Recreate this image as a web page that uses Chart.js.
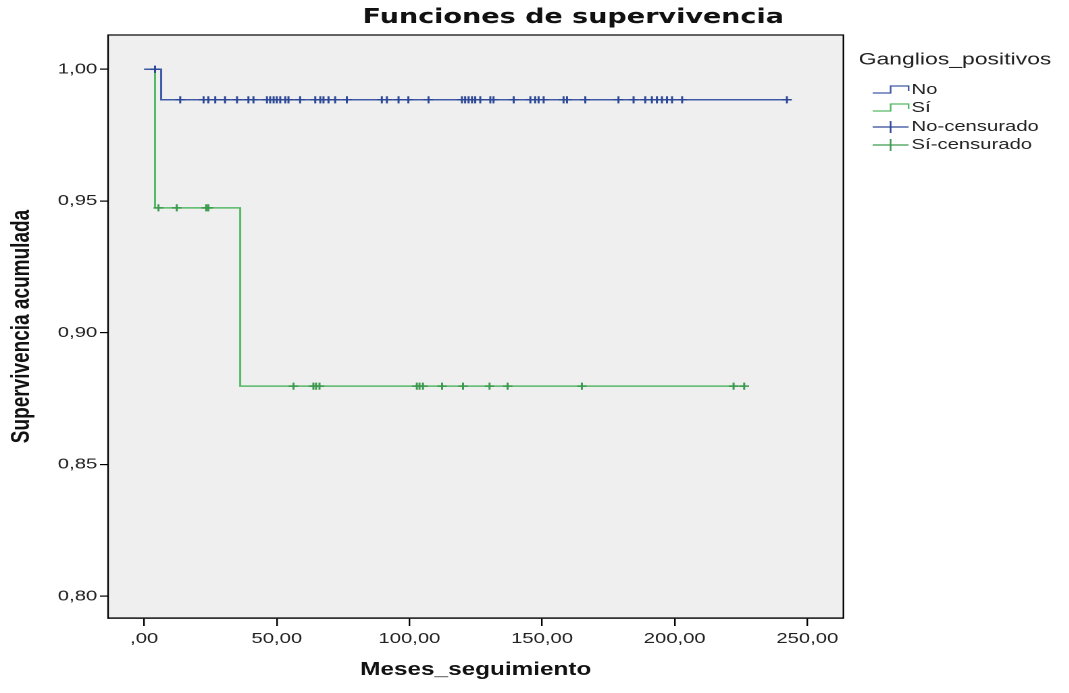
<!DOCTYPE html>
<html><head><meta charset="utf-8">
<script src="https://cdn.jsdelivr.net/npm/chart.js@4"></script>
<style>
html,body{margin:0;padding:0;background:#fff;overflow:hidden;}
#wrap{position:absolute;left:0;top:0;width:791.85px;height:693px;transform:scaleX(1.35);transform-origin:0 0;}
</style></head><body>
<div id="wrap"><canvas id="c"></canvas></div>
<script>
const chartTitle = 'Funciones de supervivencia';
const xAxisTitle = 'Meses_seguimiento';
const yAxisTitle = 'Supervivencia acumulada';
const legendTitle = 'Ganglios_positivos';
const seriesNames = ['No', 'Sí', 'No-censurado', 'Sí-censurado'];

const xTickValues = [0, 50, 100, 150, 200, 250];
const xTickLabels = [',00', '50,00', '100,00', '150,00', '200,00', '250,00'];
const yTickValues = [0.80, 0.85, 0.90, 0.95, 1.00];
const yTickLabels = ['0,80', '0,85', '0,90', '0,95', '1,00'];

// Kaplan-Meier step functions
const noTimes = [0, 6.4, 242.3];
const noSurv  = [1.0, 0.9884, 0.9884];
const siTimes = [0, 4.1, 36.2, 226.2];
const siSurv  = [1.0, 0.9474, 0.8797, 0.8797];

// censored observations (time, grouped by survival level)
const noCensLevelA = 1.0;
const noCensTimesA = [4.1];
const noCensLevelB = 0.9884;
const noCensTimesB = [13.6, 22.4, 24.2, 26.8, 30.5, 35.0, 39.3, 41.2, 46.3, 47.5, 48.8, 50.0, 51.3, 53.2, 54.4, 58.8, 64.5, 66.4, 67.6, 69.5, 72.0, 76.4, 89.6, 91.5, 95.9, 99.6, 107.2, 119.8, 121.0, 122.3, 123.6, 124.8, 126.7, 130.5, 131.7, 139.3, 145.6, 147.4, 148.7, 150.6, 158.1, 159.4, 166.3, 178.8, 184.5, 188.9, 191.4, 193.3, 195.2, 197.1, 199.0, 202.8, 242.3];
const siCensLevelA = 0.9474;
const siCensTimesA = [5.4, 12.3, 23.4, 24.2];
const siCensLevelB = 0.8797;
const siCensTimesB = [56.3, 63.8, 64.8, 66.1, 102.8, 103.8, 105.1, 112.3, 120.2, 130.2, 137.0, 165.0, 222.2, 226.2];

const blueLine = '#3f5aa8', greenLine = '#55b966';
const blueMark = '#2d4896', greenMark = '#3c9a4e';

const toXY = (ts, ys) => ts.map((t, i) => ({x: t, y: ys[i]}));
const toLevel = (ts, lvl) => ts.map(t => ({x: t, y: lvl}));

const areaPlugin = {
  id: 'area',
  beforeDatasetsDraw(chart) {
    const a = chart.chartArea, ctx = chart.ctx;
    ctx.save(); ctx.fillStyle = '#efefef';
    ctx.fillRect(a.left, a.top, a.right - a.left, a.bottom - a.top);
    ctx.restore();
  },
  afterDatasetsDraw(chart) {
    const a = chart.chartArea, ctx = chart.ctx;
    ctx.save(); ctx.strokeStyle = '#000'; ctx.lineWidth = 1.2;
    ctx.strokeRect(a.left, a.top, a.right - a.left, a.bottom - a.top);
    ctx.restore();
  },
  afterDraw(chart) {
    const ctx = chart.ctx;
    ctx.save();
    ctx.fillStyle = '#111';
    ctx.textBaseline = 'middle';
    ctx.textAlign = 'center';
    ctx.font = 'bold 20px "DejaVu Sans"';
    ctx.fillText(chartTitle, 424.4, 18);
    // legend
    ctx.textAlign = 'left';
    ctx.fillStyle = '#222';
    ctx.font = '17px "Liberation Sans"';
    ctx.fillText(legendTitle, 635.6, 60);
    ctx.font = '15px "Liberation Sans"';
    const rows = [90, 108, 127, 145];
    const cols = [blueLine, greenLine, blueMark, greenMark];
    const x0 = 646, x1 = 672.6, xm = 659.3;
    rows.forEach((y, i) => {
      ctx.strokeStyle = cols[i];
      ctx.lineWidth = 1.2;
      ctx.beginPath();
      if (i < 2) {
        ctx.moveTo(x0, y + 3); ctx.lineTo(xm, y + 3); ctx.lineTo(xm, y - 4);
        ctx.lineTo(x1, y - 4); ctx.lineTo(x1, y + 1);
      } else {
        ctx.moveTo(x0, y); ctx.lineTo(x1, y);
        ctx.moveTo(xm, y - 6); ctx.lineTo(xm, y + 6);
      }
      ctx.stroke();
      ctx.fillStyle = '#222';
      ctx.fillText(seriesNames[i], 674.8, y);
    });
    ctx.restore();
  }
};

new Chart(document.getElementById('c'), {
  type: 'line',
  data: {
    datasets: [
      {label: seriesNames[0], data: toXY(noTimes, noSurv), borderColor: blueLine, borderWidth: 1.5, stepped: true, pointRadius: 0, fill: false, order: 1},
      {label: seriesNames[1], data: toXY(siTimes, siSurv), borderColor: greenLine, borderWidth: 1.5, stepped: true, pointRadius: 0, fill: false, order: 2},
      {label: seriesNames[2], data: toLevel(noCensTimesA, noCensLevelA).concat(toLevel(noCensTimesB, noCensLevelB)), showLine: false, pointStyle: 'cross', pointRadius: 3.6, pointBorderWidth: 1.5, borderColor: blueMark, backgroundColor: blueMark, order: 0},
      {label: seriesNames[3], data: toLevel(siCensTimesA, siCensLevelA).concat(toLevel(siCensTimesB, siCensLevelB)), showLine: false, pointStyle: 'cross', pointRadius: 3.6, pointBorderWidth: 1.5, borderColor: greenMark, backgroundColor: greenMark, order: 0}
    ]
  },
  options: {
    responsive: true,
    maintainAspectRatio: false,
    animation: false,
    devicePixelRatio: 2,
    layout: {padding: {left: 0, right: 167.45, top: 35, bottom: 0}},
    plugins: {legend: {display: false}, tooltip: {enabled: false}, title: {display: false}},
    scales: {
      x: {
        type: 'linear', min: -13.6, max: 263.6,
        afterBuildTicks: s => { s.ticks = xTickValues.map(v => ({value: v})); },
        afterFit: s => { s.height = 75; },
        ticks: {callback: v => xTickLabels[xTickValues.indexOf(v)], font: {family: 'Liberation Sans', size: 15}, color: '#222', padding: 4, maxRotation: 0, autoSkip: false},
        grid: {display: true, drawOnChartArea: false, drawTicks: true, tickLength: 8, color: '#000', lineWidth: 1.2},
        border: {display: true, color: '#000', width: 1.2},
        title: {display: true, text: xAxisTitle, font: {family: 'Liberation Sans', size: 18, weight: 'bold'}, color: '#111', padding: {top: 0, bottom: 12}}
      },
      y: {
        type: 'linear', min: 0.7917, max: 1.0130,
        afterBuildTicks: s => { s.ticks = yTickValues.map(v => ({value: v})); },
        afterFit: s => { s.width = 80; },
        ticks: {callback: v => yTickLabels[yTickValues.findIndex(t => Math.abs(t - v) < 1e-9)], font: {family: 'Liberation Sans', size: 15}, color: '#222', padding: 2, autoSkip: false},
        grid: {display: true, drawOnChartArea: false, drawTicks: true, tickLength: 6, color: '#000', lineWidth: 1.2},
        border: {display: true, color: '#000', width: 1.2},
        title: {display: true, text: yAxisTitle, font: {family: 'Liberation Sans', size: 19, weight: 'bold'}, color: '#111', padding: {top: 5, bottom: 0}}
      }
    }
  },
  plugins: [areaPlugin]
});
</script>
</body></html>
